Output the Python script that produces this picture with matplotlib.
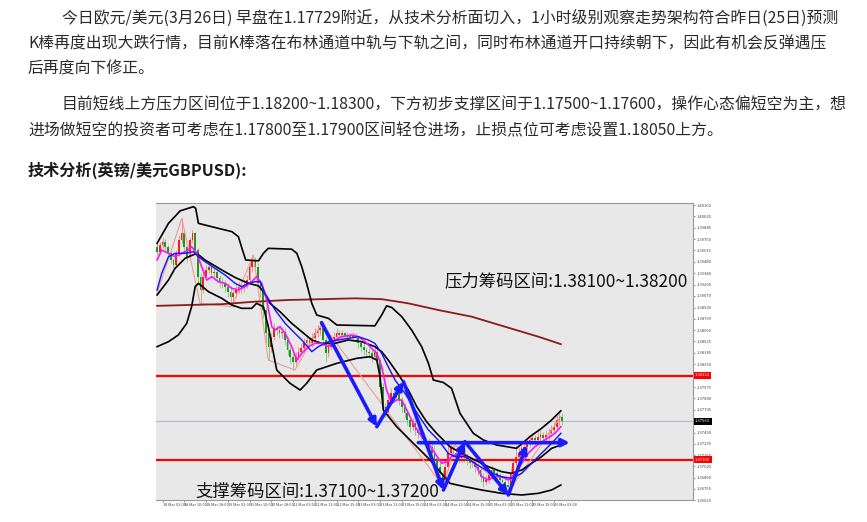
import matplotlib
matplotlib.use("Agg")
import matplotlib.pyplot as plt
import numpy as np

plt.rcParams['font.family'] = ['Noto Sans CJK SC', 'DejaVu Sans']

# ---------------- page text ----------------
para_lines = [
    "今日欧元/美元(3月26日) 早盘在1.17729附近，从技术分析面切入，1小时级别观察走势架构符合昨日(25日)预测",
    "K棒再度出现大跌行情，目前K棒落在布林通道中轨与下轨之间，同时布林通道开口持续朝下，因此有机会反弹遇压",
    "后再度向下修正。",
    "目前短线上方压力区间位于1.18200~1.18300，下方初步支撑区间于1.17500~1.17600，操作心态偏短空为主，想",
    "进场做短空的投资者可考虑在1.17800至1.17900区间轻仓进场，止损点位可考虑设置1.18050上方。",
]
heading = "技术分析(英镑/美元GBPUSD):"

# ---------------- chart data (GBPUSD H1) ----------------
first_open = 1.3966
closes = [
    1.3960, 1.3968, 1.3972, 1.3966, 1.3958, 1.3950, 1.3944, 1.3958, 1.3974, 1.3982,
    1.3966, 1.3954, 1.3974, 1.3982, 1.3962, 1.3930, 1.3914, 1.3930, 1.3938, 1.3942,
    1.3934, 1.3936, 1.3928, 1.3924, 1.3922, 1.3918, 1.3912, 1.3906, 1.3910, 1.3914,
    1.3918, 1.3916, 1.3920, 1.3926, 1.3942, 1.3950, 1.3942, 1.3922, 1.3914, 1.3890,
    1.3862, 1.3846, 1.3858, 1.3868, 1.3866, 1.3862, 1.3864, 1.3854, 1.3842, 1.3834,
    1.3828, 1.3834, 1.3840, 1.3844, 1.3850, 1.3854, 1.3850, 1.3856, 1.3862, 1.3866,
    1.3868, 1.3854, 1.3838, 1.3846, 1.3854, 1.3858, 1.3862, 1.3860, 1.3862, 1.3858,
    1.3860, 1.3858, 1.3860, 1.3856, 1.3850, 1.3846, 1.3842, 1.3840, 1.3838, 1.3834,
    1.3840, 1.3830, 1.3798, 1.3774, 1.3766, 1.3782, 1.3790, 1.3786, 1.3792, 1.3782,
    1.3774, 1.3766, 1.3758, 1.3750, 1.3754, 1.3746, 1.3742, 1.3740, 1.3734, 1.3732,
    1.3726, 1.3718, 1.3710, 1.3702, 1.3694, 1.3686, 1.3702, 1.3718, 1.3724, 1.3718,
    1.3714, 1.3712, 1.3718, 1.3714, 1.3710, 1.3706, 1.3708, 1.3702, 1.3698, 1.3690,
    1.3684, 1.3686, 1.3692, 1.3698, 1.3694, 1.3690, 1.3686, 1.3684, 1.3680, 1.3678,
    1.3694, 1.3706, 1.3714, 1.3718, 1.3724, 1.3726, 1.3730, 1.3734, 1.3736, 1.3734,
    1.3738, 1.3740, 1.3736, 1.3740, 1.3742, 1.3746, 1.3750, 1.3758, 1.3762, 1.37563,
]
highs = [
    1.3970, 1.3972, 1.3976, 1.3975, 1.3968, 1.3961, 1.3953, 1.3962, 1.3980, 1.4000,
    1.3986, 1.3970, 1.3978, 1.3986, 1.3984, 1.3965, 1.3934, 1.3936, 1.3944, 1.3948,
    1.3946, 1.3942, 1.3940, 1.3932, 1.3930, 1.3926, 1.3922, 1.3916, 1.3914, 1.3920,
    1.3924, 1.3922, 1.3926, 1.3932, 1.3948, 1.3956, 1.3954, 1.3946, 1.3926, 1.3918,
    1.3894, 1.3866, 1.3862, 1.3874, 1.3872, 1.3870, 1.3870, 1.3868, 1.3858, 1.3846,
    1.3838, 1.3840, 1.3846, 1.3850, 1.3856, 1.3860, 1.3858, 1.3862, 1.3868, 1.3872,
    1.3874, 1.3870, 1.3858, 1.3852, 1.3860, 1.3864, 1.3868, 1.3866, 1.3866, 1.3864,
    1.3864, 1.3863, 1.3864, 1.3863, 1.3859, 1.3853, 1.3850, 1.3846, 1.3844, 1.3842,
    1.3846, 1.3844, 1.3834, 1.3802, 1.3778, 1.3788, 1.3796, 1.3794, 1.3798, 1.3796,
    1.3786, 1.3778, 1.3770, 1.3762, 1.3760, 1.3758, 1.3750, 1.3746, 1.3744, 1.3738,
    1.3736, 1.3730, 1.3728, 1.3714, 1.3706, 1.3698, 1.3708, 1.3730, 1.3732, 1.3728,
    1.3722, 1.3718, 1.3724, 1.3722, 1.3718, 1.3714, 1.3714, 1.3712, 1.3706, 1.3702,
    1.3694, 1.3692, 1.3698, 1.3704, 1.3702, 1.3698, 1.3694, 1.3690, 1.3688, 1.3686,
    1.3700, 1.3712, 1.3728, 1.3724, 1.3730, 1.3732, 1.3736, 1.3740, 1.3742, 1.3740,
    1.3744, 1.3746, 1.3744, 1.3746, 1.3748, 1.3752, 1.3756, 1.3764, 1.3768, 1.3766,
]
lows = [
    1.3956, 1.3957, 1.3964, 1.3962, 1.3953, 1.3946, 1.3940, 1.3942, 1.3955, 1.3970,
    1.3960, 1.3948, 1.3950, 1.3970, 1.3956, 1.3920, 1.3898, 1.3910, 1.3926, 1.3934,
    1.3928, 1.3930, 1.3924, 1.3918, 1.3916, 1.3912, 1.3906, 1.3898, 1.3894, 1.3906,
    1.3910, 1.3910, 1.3912, 1.3916, 1.3922, 1.3936, 1.3936, 1.3916, 1.3906, 1.3880,
    1.3850, 1.3830, 1.3840, 1.3854, 1.3860, 1.3856, 1.3856, 1.3848, 1.3836, 1.3826,
    1.3818, 1.3824, 1.3830, 1.3836, 1.3840, 1.3846, 1.3844, 1.3846, 1.3852, 1.3858,
    1.3860, 1.3848, 1.3828, 1.3834, 1.3842, 1.3850, 1.3854, 1.3856, 1.3856, 1.3854,
    1.3854, 1.3854, 1.3855, 1.3852, 1.3845, 1.3840, 1.3836, 1.3834, 1.3832, 1.3828,
    1.3830, 1.3824, 1.3790, 1.3766, 1.3760, 1.3762, 1.3778, 1.3780, 1.3782, 1.3776,
    1.3768, 1.3760, 1.3752, 1.3744, 1.3746, 1.3740, 1.3736, 1.3734, 1.3728, 1.3726,
    1.3720, 1.3712, 1.3704, 1.3696, 1.3688, 1.3678, 1.3682, 1.3698, 1.3714, 1.3712,
    1.3708, 1.3706, 1.3708, 1.3708, 1.3704, 1.3700, 1.3702, 1.3696, 1.3692, 1.3684,
    1.3678, 1.3680, 1.3682, 1.3688, 1.3688, 1.3684, 1.3680, 1.3678, 1.3674, 1.3672,
    1.3674, 1.3690, 1.3702, 1.3710, 1.3714, 1.3718, 1.3722, 1.3726, 1.3728, 1.3728,
    1.3730, 1.3732, 1.3730, 1.3732, 1.3734, 1.3738, 1.3742, 1.3746, 1.3752, 1.3752,
]
opens = [first_open] + closes[:-1]

# Bollinger bands: bar index, price
bb_up_x = [0, 4.2, 8.5, 13.4, 14.2, 15.2, 17.6, 22.5, 27.5, 29.9, 31.4, 32.6, 37.3, 39.1, 40.9,
           49.5, 51.4, 53.2, 55.0, 56.9, 58.7, 63.0, 66.1, 80.1, 82.6, 84.4, 86.3, 90.0, 93.6,
           97.3, 99.8, 101.6, 105.3, 108.3, 111.4, 116.3, 120.0, 124.9, 128.6, 132.2, 137.1,
           141.4, 145.1, 148.5]
bb_up_y = [1.3970, 1.3994, 1.4009, 1.4014, 1.4012, 1.3994, 1.3992, 1.3988, 1.3984, 1.3978,
           1.3962, 1.3950, 1.3949, 1.3958, 1.3964, 1.3963, 1.3958, 1.3942, 1.3922, 1.3898,
           1.3884, 1.3880, 1.3872, 1.3871, 1.3884, 1.3895, 1.3893, 1.3882, 1.3866, 1.3846,
           1.3826, 1.3806, 1.3803, 1.3796, 1.3766, 1.3742, 1.3734, 1.3728, 1.3726, 1.3724,
           1.3738, 1.3748, 1.3758, 1.3769]
bb_mid_x = [0, 4.2, 6.6, 10.3, 14.6, 17.6, 23.8, 28.7, 33.6, 37.3, 39.1, 41.5, 45.2, 49.5,
            53.2, 56.9, 60.5, 65.4, 70.3, 75.2, 80.1, 82.6, 85.0, 89.3, 92.4, 95.5, 99.1,
            102.8, 107.7, 112.0, 116.9, 121.8, 126.7, 130.4, 134.1, 137.7, 141.4, 145.1, 148.5]
bb_mid_y = [1.3908, 1.3926, 1.3940, 1.3952, 1.3958, 1.3950, 1.3938, 1.3929, 1.3922, 1.3919,
            1.3912, 1.3898, 1.3888, 1.3874, 1.3864, 1.3854, 1.3850, 1.3850, 1.3854, 1.3852,
            1.3846, 1.3840, 1.3830, 1.3810, 1.3794, 1.3774, 1.3756, 1.3742, 1.3726, 1.3718,
            1.3710, 1.3702, 1.3696, 1.3694, 1.3698, 1.3706, 1.3714, 1.3724, 1.3728]
bb_low_x = [0, 4.2, 7.8, 10.9, 12.7, 14.0, 15.2, 18.9, 23.8, 27.5, 31.1, 34.8, 36.6, 39.1,
            40.9, 44.0, 48.9, 52.6, 55.0, 58.7, 66.1, 73.4, 78.3, 80.8, 82.0, 83.2, 88.1,
            95.5, 100.4, 107.7, 113.2, 119.4, 126.7, 134.1, 140.2, 145.1, 148.5]
bb_low_y = [1.3846, 1.3852, 1.3860, 1.3874, 1.3894, 1.3918, 1.3922, 1.3912, 1.3904, 1.3896,
            1.3892, 1.3892, 1.3898, 1.3894, 1.3870, 1.3818, 1.3802, 1.3794, 1.3802, 1.3818,
            1.3826, 1.3832, 1.3834, 1.3830, 1.3810, 1.3770, 1.3750, 1.3726, 1.3710, 1.3682,
            1.3678, 1.3674, 1.3670, 1.3668, 1.3670, 1.3674, 1.3680]

# moving averages
ma_blue_x = [0, 1.7, 4.2, 6.6, 10.3, 13.4, 15.2, 17.6, 21.3, 25.0, 28.7, 31.1, 33.6, 36.0,
             37.9, 39.7, 43.4, 47.1, 50.7, 53.2, 56.9, 59.3, 63.0, 66.7, 70.3, 74.0, 77.7,
             80.1, 82.6, 85.0, 87.5, 91.2, 94.9, 97.3, 99.8, 103.4, 107.1, 109.6, 113.2,
             116.9, 121.8, 126.7, 130.4, 134.1, 137.7, 141.4, 145.1, 148.5]
ma_blue_y = [1.3914, 1.3934, 1.3954, 1.3958, 1.3958, 1.3960, 1.3954, 1.3948, 1.3940, 1.3932,
             1.3922, 1.3918, 1.3922, 1.3924, 1.3924, 1.3910, 1.3890, 1.3874, 1.3862, 1.3854,
             1.3840, 1.3846, 1.3852, 1.3854, 1.3856, 1.3858, 1.3854, 1.3850, 1.3838, 1.3822,
             1.3806, 1.3790, 1.3770, 1.3758, 1.3746, 1.3734, 1.3718, 1.3714, 1.3714, 1.3706,
             1.3696, 1.3690, 1.3688, 1.3694, 1.3706, 1.3718, 1.3730, 1.3742]
ma_mag_x = [0, 1.7, 4.2, 6.6, 9.1, 11.5, 12.7, 14.6, 16.4, 18.3, 20.1, 22.5, 25.0, 27.5,
            29.9, 32.4, 34.8, 36.6, 38.5, 40.3, 42.2, 43.4, 45.2, 47.1, 49.5, 51.4, 53.2,
            55.6, 58.1, 60.5, 63.0, 65.4, 67.9, 71.6, 74.0, 76.5, 78.9, 80.8, 82.6, 84.4,
            86.3, 88.1, 90.0, 92.4, 94.9, 97.3, 99.8, 102.2, 104.7, 106.5, 108.3, 110.8,
            113.2, 116.9, 119.4, 121.8, 124.3, 126.7, 129.2, 131.6, 134.1, 136.5, 139.0,
            142.6, 146.3, 148.5]
ma_mag_y = [1.3950, 1.3962, 1.3958, 1.3954, 1.3958, 1.3962, 1.3966, 1.3958, 1.3942, 1.3926,
            1.3930, 1.3924, 1.3922, 1.3916, 1.3914, 1.3918, 1.3924, 1.3930, 1.3922, 1.3902,
            1.3870, 1.3866, 1.3870, 1.3862, 1.3846, 1.3830, 1.3838, 1.3846, 1.3850, 1.3850,
            1.3846, 1.3854, 1.3858, 1.3860, 1.3858, 1.3852, 1.3844, 1.3838, 1.3822, 1.3794,
            1.3778, 1.3782, 1.3782, 1.3766, 1.3750, 1.3738, 1.3730, 1.3718, 1.3706, 1.3708,
            1.3714, 1.3718, 1.3714, 1.3706, 1.3690, 1.3686, 1.3690, 1.3690, 1.3686, 1.3694,
            1.3706, 1.3718, 1.3726, 1.3734, 1.3742, 1.3750]
ma200_x = [0, 11.5, 23.8, 36.0, 48.3, 60.5, 72.8, 82.6, 92.4, 103.4, 115.7, 127.9, 140.2, 148.5]
ma200_y = [1.3895, 1.3896, 1.3897, 1.3900, 1.3902, 1.3903, 1.3904, 1.3903, 1.3898, 1.3890,
           1.3882, 1.3870, 1.3858, 1.3849]

# zigzag
zz_x = [0, 9.1, 15.8, 27.5, 35.4, 40.9, 50.7, 60.5, 105.3, 109.6, 129.2, 148.5]
zz_y = [1.3910, 1.4000, 1.3898, 1.3894, 1.3956, 1.3830, 1.3818, 1.3874, 1.3678, 1.3728,
        1.3672, 1.3762]

# hand-drawn blue arrows
arrow_x = [60.5, 80.8, 90.6, 105.3, 113.2, 129.2, 135.9]
arrow_y = [1.38748, 1.3750, 1.3804, 1.3674, 1.3732, 1.3668, 1.3728]
neck_x = [96.1, 151.8]
neck_y = 1.37308

resist_level = 1.38114
support_level = 1.37105
last_price = closes[-1]

price_ticks = [1.40160, 1.40025, 1.39885, 1.39750, 1.39615, 1.39480, 1.39340, 1.39205,
               1.39070, 1.38930, 1.38795, 1.38660, 1.38525, 1.38385, 1.38250, 1.37975,
               1.37840, 1.37705, 1.37430, 1.37295, 1.37160, 1.37025, 1.36890, 1.36755,
               1.36620]
time_ticks = [2, 10, 18, 26, 34, 42, 50, 58, 66, 74, 82, 90, 98, 106, 114, 122, 130, 138, 146]
time_labels = ["18 Mar 02:00", "18 Mar 10:00", "18 Mar 18:00", "19 Mar 02:00", "19 Mar 10:00",
               "19 Mar 18:00", "22 Mar 03:00", "22 Mar 11:00", "22 Mar 19:00", "23 Mar 03:00",
               "23 Mar 11:00", "23 Mar 19:00", "24 Mar 03:00", "24 Mar 11:00", "24 Mar 19:00",
               "25 Mar 03:00", "25 Mar 11:00", "25 Mar 19:00", "26 Mar 03:00"]

resist_text = "压力筹码区间:1.38100~1.38200"
support_text = "支撑筹码区间:1.37100~1.37200"

# ---------------- figure ----------------
W, H = 867, 522
fig = plt.figure(figsize=(W / 100, H / 100), dpi=100)
fig.patch.set_facecolor('white')

def fx(x):
    return x / W

def fy(y):
    return 1 - y / H

text_pos = [(62, 18), (28, 44), (28, 69), (62, 105), (28, 131)]
for s, (x, y) in zip(para_lines, text_pos):
    fig.text(fx(x), fy(y), s, fontsize=11.4, color='#2a2a2a', va='center', ha='left')
fig.text(fx(28), fy(170), heading, fontsize=11.6, color='#1a1a1a', va='center', ha='left',
         fontweight='bold')

ax = fig.add_axes([fx(156), fy(500), (693 - 156) / W, (500 - 203) / H])
ax.set_facecolor('#e8e8e8')
ax.set_xlim(-0.4, 197.1)
ax.set_ylim(1.3662, 1.40184)

x = np.arange(len(closes))
o = np.array(opens)
c = np.array(closes)
up = c >= o
cols = np.where(up, '#ff1a1a', '#179c17')
ax.vlines(x, lows, highs, colors=cols, lw=0.6, alpha=0.5, zorder=2)
ax.bar(x, np.maximum(np.abs(c - o), 0.00004), bottom=np.minimum(o, c), width=0.62,
       color=cols, lw=0, zorder=2.1)

ax.axhline(resist_level, color='#ff0000', lw=1.6, zorder=1.5)
ax.axhline(support_level, color='#ff0000', lw=1.6, zorder=1.5)
ax.axhline(last_price, color='#b7bec8', lw=0.9, zorder=1.4)

ax.plot(zz_x, zz_y, color='#f29a90', lw=0.8, zorder=2.5)
ax.plot(ma200_x, ma200_y, color='#8b1c1c', lw=1.3, zorder=3)
ax.plot(bb_up_x, bb_up_y, color='black', lw=1.2, zorder=3)
ax.plot(bb_mid_x, bb_mid_y, color='black', lw=1.2, zorder=3)
ax.plot(bb_low_x, bb_low_y, color='black', lw=1.2, zorder=3)
ax.plot(ma_blue_x, ma_blue_y, color='#1010ff', lw=1.0, zorder=3.2)
ax.plot(ma_mag_x, ma_mag_y, color='#ff10ff', lw=1.2, zorder=3.1)

arrow_color = '#1a1aff'
for k in range(len(arrow_x) - 1):
    ax.annotate('', xy=(arrow_x[k + 1], arrow_y[k + 1]), xytext=(arrow_x[k], arrow_y[k]),
                arrowprops=dict(arrowstyle='-|>', color=arrow_color, lw=2.6,
                                mutation_scale=11, shrinkA=0, shrinkB=0),
                zorder=5)
ax.annotate('', xy=(neck_x[1], neck_y), xytext=(neck_x[0], neck_y),
            arrowprops=dict(arrowstyle='-|>', color=arrow_color, lw=2.6,
                            mutation_scale=11, shrinkA=0, shrinkB=0),
            zorder=5)

ax.text(0.538, 0.737, resist_text, transform=ax.transAxes, fontsize=12.5, color='#111111',
        va='center', ha='left', zorder=6)
ax.text(0.0726, 0.027, support_text, transform=ax.transAxes, fontsize=12.5, color='#111111',
        va='center', ha='left', zorder=6)

# axes styling
for side in ['top', 'right', 'bottom']:
    ax.spines[side].set_color('#9a9a9a')
    ax.spines[side].set_linewidth(0.8)
ax.spines['left'].set_visible(False)

ax.yaxis.tick_right()
ax.set_yticks(price_ticks)
ax.set_yticklabels([f"{v:.5f}" for v in price_ticks], fontsize=3, color='#444444')
ax.tick_params(axis='y', length=1.5, width=0.5, pad=1.2, colors='#666666', labelcolor='#444444')

ax.set_xticks(time_ticks)
ax.set_xticklabels(time_labels, fontsize=2.8, ha='left', color='#444444')
ax.tick_params(axis='x', length=1.5, width=0.5, pad=0.8, colors='#666666', labelcolor='#444444')

for val, col in [(resist_level, '#ff0000'), (last_price, '#000000'), (support_level, '#ff0000')]:
    ax.text(1.004, val, f"{val:.5f}", transform=ax.get_yaxis_transform(), fontsize=3,
            color='white', va='center', ha='left', clip_on=False, zorder=7,
            bbox=dict(boxstyle='square,pad=0.35', fc=col, ec='none'))

fig.savefig('out.png', dpi=100, facecolor='white')
